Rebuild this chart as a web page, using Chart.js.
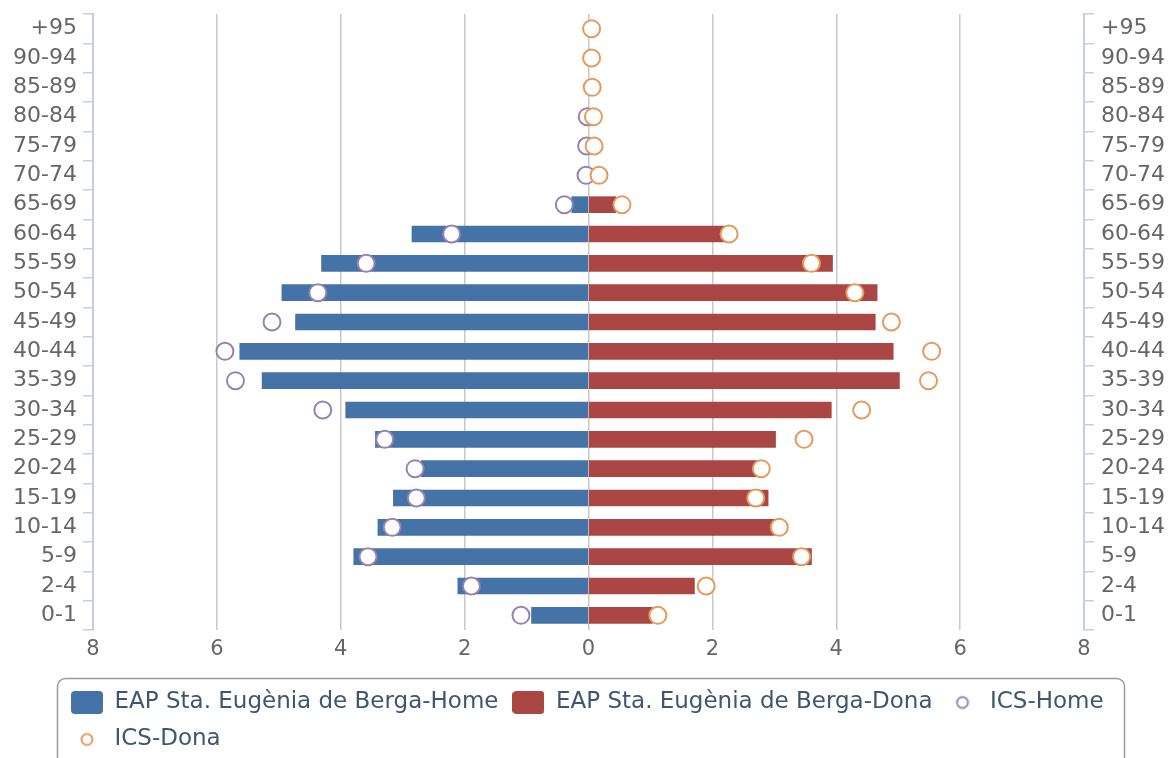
<!DOCTYPE html>
<html>
<head>
<meta charset="utf-8">
<title>Piràmide</title>
<script src="https://cdn.jsdelivr.net/npm/chart.js@4.4.0/dist/chart.umd.min.js"></script>
<style>
    body { margin: 0; background: #fff; }
    canvas { display: block; }
</style>
</head>
<body>
<canvas id="pyramid" width="1170" height="758"></canvas>
<script>
        const ctx = document.getElementById('pyramid');
        // de dalt a baix
        const ageGroups = ['+95', '90-94', '85-89', '80-84', '75-79', '70-74', '65-69', '60-64', '55-59', '50-54', '45-49',
            '40-44', '35-39', '30-34', '25-29', '20-24', '15-19', '10-14', '5-9', '2-4', '0-1'];
        const eapHome = [0, 0, 0, 0, 0, 0, 0.27, 2.85, 4.31, 4.95, 4.73, 5.63, 5.27, 3.92, 3.44, 2.7, 3.15, 3.4, 3.79, 2.11, 0.92];
        const eapDona = [0, 0, 0, 0, 0, 0, 0.44, 2.19, 3.94, 4.66, 4.63, 4.92, 5.02, 3.92, 3.02, 2.71, 2.9, 3.0, 3.6, 1.71, 1.03];
        const icsHome = [null, null, null, 0.02, 0.03, 0.04, 0.39, 2.21, 3.59, 4.37, 5.11, 5.87, 5.7, 4.29, 3.29, 2.8, 2.78, 3.17, 3.56, 1.89, 1.09];
        const icsDona = [0.05, 0.05, 0.06, 0.08, 0.09, 0.17, 0.54, 2.27, 3.6, 4.3, 4.89, 5.54, 5.49, 4.41, 3.48, 2.79, 2.7, 3.08, 3.44, 1.9, 1.12];
        const seriesNames = ['EAP Sta. Eugènia de Berga-Home', 'EAP Sta. Eugènia de Berga-Dona', 'ICS-Home', 'ICS-Dona'];
        const xTicks = [-8, -6, -4, -2, 0, 2, 4, 6, 8];

        const blue = '#4572A7';
        const red = '#AA4643';
        const purple = '#9584B0';
        const orange = '#E49B5B';
        const axisBlue = '#C0D0E0';

        Chart.defaults.font.family = '"DejaVu Sans", Verdana, sans-serif';

        // simbols de la llegenda
        function boxSymbol(color) {
            const c = document.createElement('canvas');
            c.width = 32; c.height = 23;
            const g = c.getContext('2d');
            g.fillStyle = color;
            g.beginPath();
            g.roundRect(0, 0, 32, 23, 4);
            g.fill();
            return c;
        }
        function ringSymbol(color) {
            const c = document.createElement('canvas');
            c.width = 16; c.height = 16;
            const g = c.getContext('2d');
            g.fillStyle = '#fff';
            g.strokeStyle = color;
            g.lineWidth = 2;
            g.beginPath();
            g.arc(8, 8, 5.5, 0, Math.PI * 2);
            g.fill();
            g.stroke();
            return c;
        }
        const legendSymbols = [boxSymbol(blue), boxSymbol(red), ringSymbol(purple), ringSymbol(orange)];

        const legendFrame = {
            id: 'legendFrame',
            afterInit(chart) {
                const lg = chart.legend;
                const upd = lg.update;
                lg.update = function(w, h, m) { upd.call(this, 1068, h, m); };
            },
            afterLayout(chart) {
                const lg = chart.legend;
                lg.left = 57;
                lg.right = 1125;
                lg.width = 1068;
                lg.top = 677;
                lg.bottom = 677 + lg.height;
            },
            afterDraw(chart) {
                const c = chart.ctx;
                c.save();
                c.strokeStyle = '#9a9a9a';
                c.lineWidth = 1.5;
                c.beginPath();
                c.roundRect(57.5, 678.5, 1067, 120, 8);
                c.stroke();
                c.restore();
            }
        };

        function fixAxis(width) {
            return scale => {
                scale.width = width;
                scale.paddingTop = 0;
                scale.paddingBottom = 0;
            };
        }

        new Chart(ctx, {
            type: 'bar',
            data: {
                labels: ageGroups,
                datasets: [{
                    label: seriesNames[0],
                    data: eapHome.map(v => -v),
                    backgroundColor: blue,
                    barThickness: 16,
                    grouped: false,
                    yAxisID: 'y',
                    order: 3
                }, {
                    label: seriesNames[1],
                    data: eapDona,
                    backgroundColor: red,
                    barThickness: 16,
                    grouped: false,
                    yAxisID: 'y',
                    order: 2
                }, {
                    type: 'line',
                    label: seriesNames[2],
                    data: icsHome.map(v => v == null ? null : -v),
                    showLine: false,
                    pointRadius: 8.5,
                    pointHoverRadius: 8.5,
                    pointBorderWidth: 2,
                    pointBackgroundColor: '#fff',
                    pointBorderColor: purple,
                    borderColor: purple,
                    yAxisID: 'y',
                    order: 1
                }, {
                    type: 'line',
                    label: seriesNames[3],
                    data: icsDona,
                    showLine: false,
                    pointRadius: 8.5,
                    pointHoverRadius: 8.5,
                    pointBorderWidth: 2,
                    pointBackgroundColor: '#fff',
                    pointBorderColor: orange,
                    borderColor: orange,
                    yAxisID: 'y',
                    order: 0
                }]
            },
            options: {
                indexAxis: 'y',
                responsive: false,
                maintainAspectRatio: false,
                animation: false,
                layout: {
                    padding: { top: 14, left: 0, right: 0, bottom: 0 }
                },
                scales: {
                    x: {
                        type: 'linear',
                        min: -8,
                        max: 8,
                        afterBuildTicks: scale => { scale.ticks = xTicks.map(v => ({ value: v })); },
                        afterFit: scale => { scale.height = 44; },
                        border: { display: false },
                        grid: {
                            drawTicks: false,
                            lineWidth: 1.5,
                            color: c => (c.tick && Math.abs(c.tick.value) === 8) ? 'rgba(0,0,0,0)' : '#C8C8C8'
                        },
                        ticks: {
                            padding: 7,
                            color: '#666',
                            font: { size: 21 },
                            callback: v => Math.abs(v)
                        }
                    },
                    y: {
                        type: 'category',
                        position: 'left',
                        offset: true,
                        afterFit: fixAxis(93),
                        border: { color: axisBlue, width: 2 },
                        grid: {
                            offset: true,
                            drawOnChartArea: false,
                            tickLength: 10,
                            lineWidth: 1.5,
                            color: axisBlue
                        },
                        ticks: {
                            autoSkip: false,
                            padding: 6,
                            color: '#666',
                            font: { size: 22 }
                        }
                    },
                    y2: {
                        type: 'category',
                        position: 'right',
                        labels: ageGroups,
                        offset: true,
                        afterFit: fixAxis(86),
                        border: { color: axisBlue, width: 2 },
                        grid: {
                            offset: true,
                            drawOnChartArea: false,
                            tickLength: 10,
                            lineWidth: 1.5,
                            color: axisBlue
                        },
                        ticks: {
                            autoSkip: false,
                            padding: 7,
                            color: '#666',
                            font: { size: 22 }
                        }
                    }
                },
                plugins: {
                    tooltip: { enabled: false },
                    legend: {
                        position: 'bottom',
                        align: 'start',
                        labels: {
                            usePointStyle: true,
                            pointStyleWidth: 32,
                            boxHeight: 22,
                            padding: 14,
                            color: '#3E576F',
                            font: { size: 23 },
                            generateLabels: chart => {
                                const items = Chart.defaults.plugins.legend.labels.generateLabels(chart);
                                items.sort((a, b) => a.datasetIndex - b.datasetIndex);
                                items.forEach(it => { it.pointStyle = legendSymbols[it.datasetIndex]; });
                                return items;
                            }
                        }
                    }
                }
            },
            plugins: [legendFrame]
        });
</script>
</body>
</html>
